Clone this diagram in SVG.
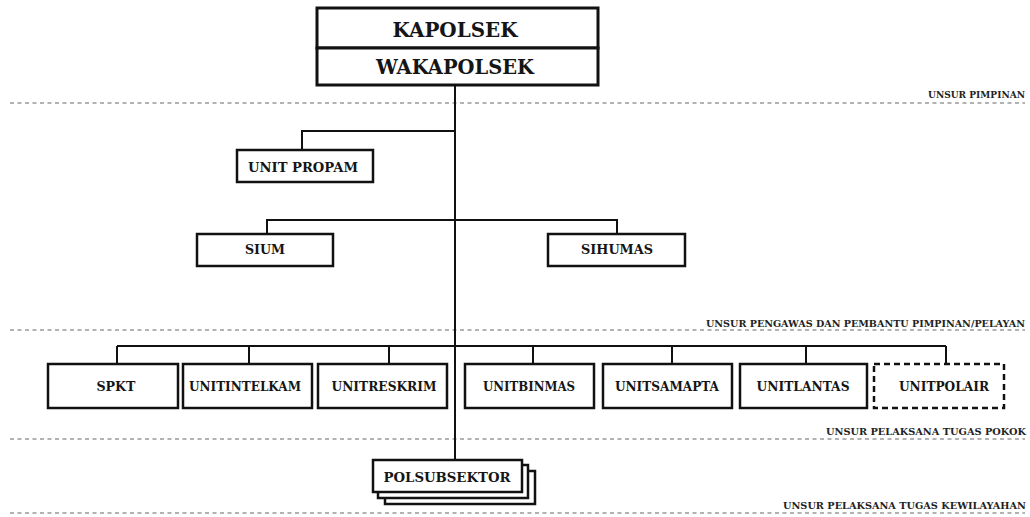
<svg xmlns="http://www.w3.org/2000/svg" width="1030" height="517" viewBox="0 0 1030 517">
<style>
.bg{fill:#fff}
.box{fill:#fff;stroke:#111;stroke-width:2.5}
.dbox{fill:#fff;stroke:#111;stroke-width:2.5;stroke-dasharray:6 4}
.con{fill:none;stroke:#111;stroke-width:2}
.sep{fill:none;stroke:#666;stroke-width:1.2;stroke-dasharray:4 3.5}
.t{font-family:"DejaVu Serif","Liberation Serif",serif;font-weight:bold;fill:#151515;text-anchor:middle}
.big{font-size:20px}
.mid{font-size:13px}
.sm{font-size:12.5px}
.lab{font-family:"DejaVu Serif","Liberation Serif",serif;font-weight:bold;fill:#222;font-size:9px;text-anchor:end}
</style>
<rect class="bg" x="0" y="0" width="1030" height="517"/>
<g id="separators">
<line class="sep" x1="10" y1="103" x2="1025" y2="103"/>
<text class="lab" x="1025" y="98" textLength="97" lengthAdjust="spacingAndGlyphs">UNSUR PIMPINAN</text>
<line class="sep" x1="10" y1="330" x2="1025" y2="330"/>
<text class="lab" x="1025" y="327" textLength="319" lengthAdjust="spacingAndGlyphs">UNSUR PENGAWAS DAN PEMBANTU PIMPINAN/PELAYAN</text>
<line class="sep" x1="10" y1="439" x2="1025" y2="439"/>
<text class="lab" x="1026" y="435" textLength="200" lengthAdjust="spacingAndGlyphs">UNSUR PELAKSANA TUGAS POKOK</text>
<line class="sep" x1="10" y1="513" x2="1025" y2="513"/>
<text class="lab" x="1026" y="509" textLength="243" lengthAdjust="spacingAndGlyphs">UNSUR PELAKSANA TUGAS KEWILAYAHAN</text>
</g>
<g id="connectors">
<line class="con" x1="455" y1="85" x2="455" y2="460"/>
<polyline class="con" points="455,131 302,131 302,150"/>
<polyline class="con" points="267,234 267,220 617,220 617,234"/>
<line class="con" x1="117" y1="346" x2="946" y2="346"/>
<line class="con" x1="117" y1="346" x2="117" y2="364"/>
<line class="con" x1="249" y1="346" x2="249" y2="364"/>
<line class="con" x1="389" y1="346" x2="389" y2="364"/>
<line class="con" x1="533" y1="346" x2="533" y2="364"/>
<line class="con" x1="672" y1="346" x2="672" y2="364"/>
<line class="con" x1="806" y1="346" x2="806" y2="364"/>
<line class="con" x1="946" y1="346" x2="946" y2="364"/>
</g>
<g id="kapolsek">
<rect class="box" x="317" y="8" width="281" height="40" style="stroke-width:3"/>
<text class="t big" x="455" y="37" textLength="125" lengthAdjust="spacingAndGlyphs">KAPOLSEK</text>
</g>
<g id="wakapolsek">
<rect class="box" x="317" y="48" width="281" height="37" style="stroke-width:3"/>
<text class="t big" x="455" y="74" textLength="158" lengthAdjust="spacingAndGlyphs">WAKAPOLSEK</text>
</g>
<g id="unit-propam">
<rect class="box" x="237" y="150" width="136" height="32"/>
<text class="t mid" x="303" y="172" textLength="110" lengthAdjust="spacingAndGlyphs">UNIT PROPAM</text>
</g>
<g id="sium">
<rect class="box" x="197" y="234" width="136" height="32"/>
<text class="t mid" x="265" y="254" textLength="40" lengthAdjust="spacingAndGlyphs">SIUM</text>
</g>
<g id="sihumas">
<rect class="box" x="548" y="234" width="137" height="32"/>
<text class="t mid" x="617" y="254" textLength="72" lengthAdjust="spacingAndGlyphs">SIHUMAS</text>
</g>
<g id="spkt">
<rect class="box" x="48" y="364" width="130" height="44"/>
<text class="t sm" x="116" y="391" textLength="39" lengthAdjust="spacingAndGlyphs">SPKT</text>
</g>
<g id="unitintelkam">
<rect class="box" x="183" y="364" width="129" height="44"/>
<text class="t sm" x="245" y="391" textLength="112" lengthAdjust="spacingAndGlyphs">UNITINTELKAM</text>
</g>
<g id="unitreskrim">
<rect class="box" x="318" y="364" width="129" height="44"/>
<text class="t sm" x="384" y="391" textLength="105" lengthAdjust="spacingAndGlyphs">UNITRESKRIM</text>
</g>
<g id="unitbinmas">
<rect class="box" x="465" y="364" width="129" height="44"/>
<text class="t sm" x="529" y="391" textLength="92" lengthAdjust="spacingAndGlyphs">UNITBINMAS</text>
</g>
<g id="unitsamapta">
<rect class="box" x="603" y="364" width="129" height="44"/>
<text class="t sm" x="667" y="391" textLength="104" lengthAdjust="spacingAndGlyphs">UNITSAMAPTA</text>
</g>
<g id="unitlantas">
<rect class="box" x="740" y="364" width="127" height="44"/>
<text class="t sm" x="803" y="391" textLength="93" lengthAdjust="spacingAndGlyphs">UNITLANTAS</text>
</g>
<g id="unitpolair">
<rect class="dbox" x="874" y="364" width="130" height="44"/>
<text class="t sm" x="944" y="391" textLength="90" lengthAdjust="spacingAndGlyphs">UNITPOLAIR</text>
</g>
<g id="polsubsektor">
<rect class="box" x="385" y="471" width="150" height="33"/>
<rect class="box" x="378" y="465" width="150" height="33"/>
<rect class="box" x="373" y="460" width="149" height="32"/>
<text class="t mid" x="447" y="482" textLength="127" lengthAdjust="spacingAndGlyphs">POLSUBSEKTOR</text>
</g>
</svg>
